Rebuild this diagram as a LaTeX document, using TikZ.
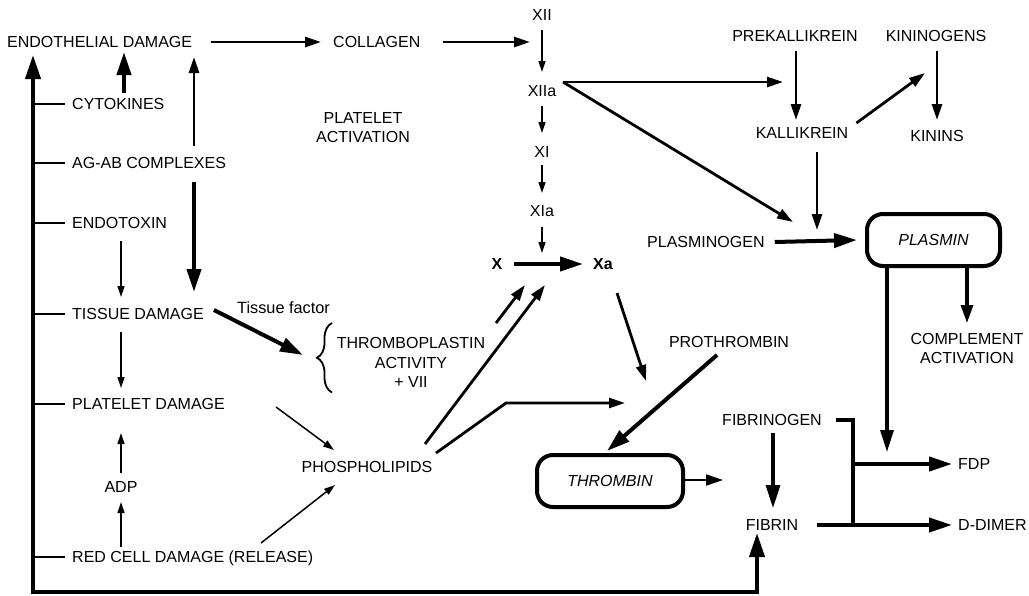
\documentclass[tikz,border=0pt]{standalone}
\usepackage{fontspec}
\setmainfont{Liberation Sans}
\usetikzlibrary{arrows.meta,calc,decorations.pathreplacing}
\begin{document}
\begin{tikzpicture}[x=1pt,y=-1pt,
  every node/.style={font=\fontsize{16}{19.3}\selectfont, inner sep=0pt},
  lab/.style={text height=11.5pt, text depth=0pt},
  multi/.style={align=center},
  thinarr/.style={line width=1.5pt, -{Triangle[length=11pt,width=7pt]}},
  medarr/.style={line width=2.8pt, -{Triangle[length=16pt,width=10pt]}},
  thickarr/.style={line width=4pt, -{Triangle[length=23pt,width=14pt]}},
  rbox/.style={draw, line width=4pt, rounded corners=16pt, minimum height=52pt,
    font=\fontsize{16}{19.3}\selectfont\itshape},
  tick/.style={line width=2.6pt},
  bigtip/.style={line width=4pt,
    {Triangle[length=24pt,width=15pt]}-{Triangle[length=24pt,width=15pt]}},
]
\useasboundingbox (0,0) rectangle (1029,595);

% ---- labels ----
\node[lab, anchor=west] (endo) at (7,42) {ENDOTHELIAL DAMAGE};
\node[lab, anchor=west] (coll) at (333,42) {COLLAGEN};
\node[lab] (xii) at (542,15) {XII};
\node[lab] (xiia) at (542,91) {XIIa};
\node[lab] (xi) at (542,152) {XI};
\node[lab] (xia) at (542,211) {XIa};
\node[lab] (x) at (497,264) {\bfseries X};
\node[lab] (xa) at (603,264) {\bfseries Xa};
\node[multi] (platact) at (363,127.5) {PLATELET\\ACTIVATION};
\node[lab] (prek) at (795,36) {PREKALLIKREIN};
\node[lab] (kinog) at (936,36) {KININOGENS};
\node[lab] (kall) at (802,133) {KALLIKREIN};
\node[lab] (kinins) at (937,136) {KININS};
\node[lab, anchor=west] (plg) at (647,242) {PLASMINOGEN};
\node[rbox, minimum width=133pt] (plasmin) at (933.5,240) {PLASMIN};
\node[multi] (compl) at (967,348.5) {COMPLEMENT\\ACTIVATION};
\node[lab, anchor=west] (cyto) at (72,104) {CYTOKINES};
\node[lab, anchor=west] (agab) at (72,163) {AG-AB COMPLEXES};
\node[lab, anchor=west] (endotox) at (72,223) {ENDOTOXIN};
\node[lab, anchor=west] (tissue) at (72,314) {TISSUE DAMAGE};
\node[lab, anchor=west] (platdam) at (72,404) {PLATELET DAMAGE};
\node[lab] (adp) at (121,487) {ADP};
\node[lab, anchor=west] (redcell) at (72,557) {RED CELL DAMAGE (RELEASE)};
\node[lab, anchor=west, font=\fontsize{16.3}{19}\selectfont] (tf) at (237,308) {Tissue factor};
\node[multi] (thrombo) at (411,362.5) {THROMBOPLASTIN\\ACTIVITY\\+ VII};
\node[lab] (phospho) at (367,467) {PHOSPHOLIPIDS};
\node[lab] (prothr) at (729,342) {PROTHROMBIN};
\node[rbox, minimum width=146pt] (thrombin) at (610,481) {THROMBIN};
\node[lab] (fbg) at (772,420) {FIBRINOGEN};
\node[lab] (fibrin) at (772,525) {FIBRIN};
\node[lab, anchor=west] (fdp) at (958,464) {FDP};
\node[lab, anchor=west] (ddimer) at (958,525) {D-DIMER};

% ---- contact pathway ----
\draw[medarr] ($(endo.east)+(19,0)$) -- ($(coll.west)+(-12,0)$);
\draw[medarr] ($(coll.east)+(22,0)$) -- ($(xii)+(-12,27)$);
\draw[thinarr] ($(xii)+(0,15)$) -- ($(xiia)+(0,-19)$);
\draw[thinarr] ($(xiia)+(0,15)$) -- ($(xi)+(0,-19)$);
\draw[thinarr] ($(xi)+(0,13)$) -- ($(xia)+(0,-18)$);
\draw[thinarr] ($(xia)+(0,16)$) -- ($(xia)+(0,42)$);
\draw[thickarr] ($(x.east)+(11,0)$) -- ($(xa.west)+(-10,0)$);

% ---- kallikrein / plasmin ----
\coordinate (xiiaout) at ($(xiia)+(21,-9)$);
\draw[medarr] (xiiaout) -- ($(prek)+(-12,46)$);
\draw[medarr] (xiiaout) -- ($(plasmin)+(-140.5,-18)$);
\draw[medarr] ($(prek)+(1,15)$) -- ($(kall)+(-6,-13)$);
\draw[medarr] ($(kinog)+(1,15)$) -- ($(kinins)+(0,-16)$);
\draw[medarr] ($(kall.east)+(8,-10)$) -- ($(kinog)+(-11,37)$);
\draw[medarr] ($(kall)+(15,19)$) -- ($(plasmin)+(-116.5,-10)$);
\draw[thickarr] ($(plg.east)+(10,0)$) -- ($(plasmin.west)+(-8,0)$);
\draw[line width=3.2pt, -{Triangle[length=22pt,width=13pt]}]
  ($(plasmin.south)+(-46.5,0)$) -- ($(fdp.west)+(-71,-12)$);
\draw[line width=3.2pt, -{Triangle[length=18pt,width=12pt]}]
  ($(plasmin.south)+(33.5,0)$) -- ($(compl)+(0,-25.5)$);

% ---- fibrin ----
\draw[line width=4pt] ($(fbg.east)+(14,0)$) -| ($(fibrin)+(81,0)$);
\draw[thickarr] ($(fdp.west)+(-105,0)$) -- ($(fdp.west)+(-6,0)$);
\draw[thickarr] ($(fibrin.east)+(19,0)$) -- ($(ddimer.west)+(-6,0)$);
\draw[line width=3.2pt, -{Triangle[length=23pt,width=14pt]}]
  ($(fbg)+(1,13)$) -- ($(fibrin)+(1,-17)$);

% ---- left trunk and feedback loop ----
\coordinate (base) at (33,592);
\draw[bigtip] ($(endo.west)+(26,13)$) -- (base) -| ($(fibrin)+(-15,8)$);
\foreach \n in {cyto,agab,endotox,tissue,platdam,redcell}
  \draw[tick] (base |- \n.west) -- ($(\n.west)+(-7,0)$);

% ---- left column arrows ----
\draw[line width=4pt, -{Triangle[length=23pt,width=14pt]}]
  ($(cyto.west)+(52,-11)$) -- ($(endo.west)+(117,10)$);
\draw[medarr] ($(agab.west)+(122,-17)$) -- ($(endo.west)+(187,15)$);
\draw[thickarr] ($(agab.west)+(122,19)$) -- ($(tissue.west)+(122,-22)$);
\draw[thinarr] ($(endotox.west)+(49,18)$) -- ($(tissue.west)+(49,-17)$);
\draw[thinarr] ($(tissue.west)+(49,18)$) -- ($(platdam.west)+(49,-16)$);
\draw[thinarr] ($(adp)+(0,-14)$) -- ($(platdam.west)+(49,29)$);
\draw[thinarr] ($(redcell.west)+(49,-10)$) -- ($(adp)+(0,15)$);

% ---- tissue factor and phospholipids ----
\draw[thickarr] ($(tissue.east)+(10,-4)$) -- ($(thrombo)+(-108,-7.5)$);
\draw[line width=1.8pt, decorate, decoration={brace, amplitude=15pt}]
  ($(thrombo)+(-79,30)$) -- ($(thrombo)+(-79,-39.5)$);
\draw[thinarr] ($(platdam.east)+(51,3)$) -- ($(phospho)+(-33,-17)$);
\draw[thinarr] ($(redcell.west)+(189,-14)$) -- ($(phospho)+(-32,18)$);
\draw[medarr] ($(phospho)+(58,-23)$) -- ($(x)+(48,21)$);
\draw[medarr] ($(thrombo)+(85,-39.5)$) -- ($(x)+(28,21)$);
\draw[medarr] ($(phospho)+(69,-14)$) -- ($(phospho)+(139,-64)$) -- ($(thrombin)+(15,-78)$);

% ---- thrombin ----
\draw[medarr] ($(xa)+(14,29)$) -- ($(thrombin)+(36,-100)$);
\draw[thickarr] ($(prothr)+(-12,13)$) -- ($(thrombin.north)+(-3,-2)$);
\draw[line width=2.2pt, -{Triangle[length=17pt,width=11pt]}]
  ($(thrombin.east)+(0,-1)$) -- ++(38,0);
\end{tikzpicture}
\end{document}
